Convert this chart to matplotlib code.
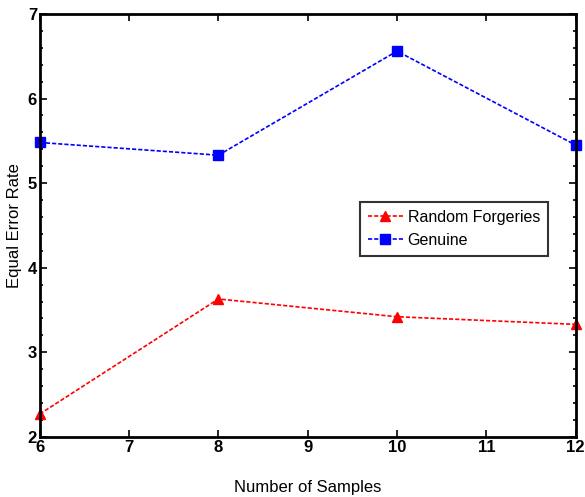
import matplotlib
matplotlib.use('Agg')
import matplotlib.pyplot as plt
from matplotlib.ticker import MultipleLocator

plt.rcParams['font.family'] = ['Liberation Sans', 'DejaVu Sans']

samples = [6, 8, 10, 12]
random_forgeries = [2.27, 3.63, 3.42, 3.33]
genuine = [5.48, 5.33, 6.56, 5.45]

fig = plt.figure(figsize=(5.85, 4.97), dpi=100)
ax = fig.add_axes([0.068, 0.121, 0.916, 0.851])

ax.plot(samples, random_forgeries, color='red', linestyle=(0, (2.5, 1.2)), lw=1.2,
        marker='^', markersize=7, label='Random Forgeries', clip_on=False)
ax.plot(samples, genuine, color='blue', linestyle=(0, (2.5, 1.2)), lw=1.2,
        marker='s', markersize=6.5, label='Genuine', clip_on=False)

ax.set_xlim(6, 12)
ax.set_ylim(2, 7)
ax.xaxis.set_major_locator(MultipleLocator(1))
ax.yaxis.set_major_locator(MultipleLocator(1))
ax.yaxis.set_minor_locator(MultipleLocator(0.2))
ax.tick_params(which='both', direction='in', top=True, right=True, width=1.2)
ax.tick_params(which='major', length=5, labelsize=12, pad=2)
ax.tick_params(which='minor', length=2.5)
for lab in ax.get_xticklabels() + ax.get_yticklabels():
    lab.set_fontweight('bold')
for s in ax.spines.values():
    s.set_linewidth(2)

ax.set_xlabel('Number of Samples', fontsize=12, labelpad=18)
ax.set_ylabel('Equal Error Rate', fontsize=12, labelpad=4)

leg = ax.legend(loc='upper left', bbox_to_anchor=(0.582, 0.575), fontsize=11.5,
                frameon=True, fancybox=False, edgecolor='black',
                handlelength=2.2, borderpad=0.5, labelspacing=0.5, handletextpad=0.3)
leg.get_frame().set_linewidth(1.5)

fig.savefig('out.png', dpi=100)
